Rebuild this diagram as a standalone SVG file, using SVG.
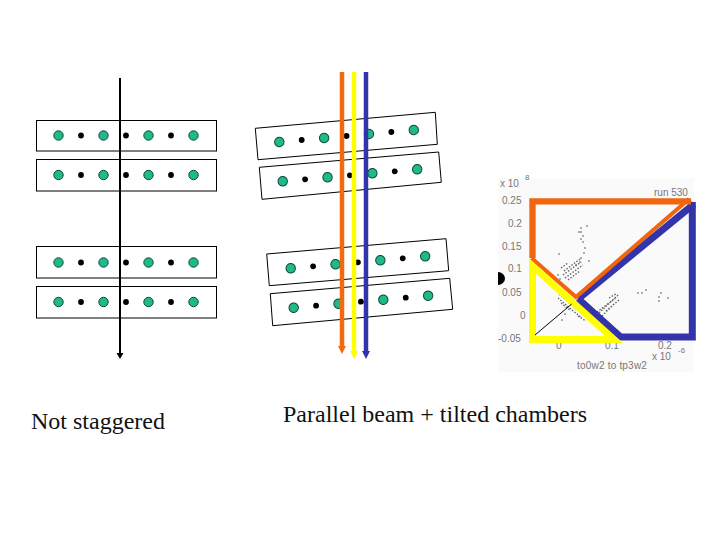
<svg xmlns="http://www.w3.org/2000/svg" width="720" height="540" viewBox="0 0 720 540">
<style>
.ch{fill:#fff;stroke:#000;stroke-width:1}
.g{fill:#1fb98a;stroke:#0b4a3a;stroke-width:1}
.b{fill:#000}
.cap{font-family:"Liberation Serif","Times New Roman",serif;font-size:24px;fill:#111}
.ax{font-family:"Liberation Sans",Arial,sans-serif;font-size:10px;fill:#777}
.sc{stroke:#666;stroke-width:1.4;fill:none;stroke-dasharray:1.5 1.6}
.sp{stroke:#666;stroke-width:1.4;stroke-linecap:square;fill:none}
</style>
<defs>
<g id="row"><circle class="g" cx="0" cy="0" r="4.7"/><circle class="b" cx="22.5" cy="0" r="2.9"/><circle class="g" cx="45" cy="0" r="4.7"/><circle class="b" cx="67.5" cy="0" r="2.9"/><circle class="g" cx="90" cy="0" r="4.7"/><circle class="b" cx="112.5" cy="0" r="2.9"/><circle class="g" cx="135" cy="0" r="4.7"/></g>
<marker id="ab" markerUnits="userSpaceOnUse" markerWidth="8" markerHeight="8" refX="1" refY="3.5" orient="auto"><path d="M0,0L6,3.5L0,7z" fill="#000"/></marker>
<marker id="ao" markerUnits="userSpaceOnUse" markerWidth="9" markerHeight="9" refX="1" refY="4" orient="auto"><path d="M0,0L8,4L0,8z" fill="#f26a10"/></marker>
<marker id="ay" markerUnits="userSpaceOnUse" markerWidth="9" markerHeight="9" refX="1" refY="4" orient="auto"><path d="M0,0L8,4L0,8z" fill="#ffff00"/></marker>
<marker id="al" markerUnits="userSpaceOnUse" markerWidth="9" markerHeight="9" refX="1" refY="4" orient="auto"><path d="M0,0L8,4L0,8z" fill="#3333aa"/></marker>
</defs>
<g id="chamber-straight-1"><rect class="ch" x="36.5" y="120.5" width="180" height="30.5"/><use href="#row" x="58.5" y="135.5"/></g>
<g id="chamber-straight-2"><rect class="ch" x="36.5" y="159.5" width="180" height="31.5"/><use href="#row" x="58.5" y="175"/></g>
<g id="chamber-straight-3"><rect class="ch" x="36.5" y="246.5" width="180" height="31.5"/><use href="#row" x="58.5" y="262.5"/></g>
<g id="chamber-straight-4"><rect class="ch" x="36.5" y="286.5" width="180" height="31.5"/><use href="#row" x="58.5" y="302"/></g>
<g id="chamber-tilted-1"><path class="ch" d="M255.3,128.3L435.3,112.3L437.3,144.3L258,159.7Z"/><use href="#row" transform="translate(279.3,142) rotate(-5.1)"/></g>
<g id="chamber-tilted-2"><path class="ch" d="M259.3,167.3L438.7,152L441.3,182.3L262,199.3Z"/><use href="#row" transform="translate(282.7,181.3) rotate(-5.1)"/></g>
<g id="chamber-tilted-3"><path class="ch" d="M266.7,254L446,238.7L448.7,270.7L269.3,285.7Z"/><use href="#row" transform="translate(290.7,268.3) rotate(-5.1)"/></g>
<g id="chamber-tilted-4"><path class="ch" d="M270.3,293.7L449.7,278.3L452.7,309.3L272.7,325.7Z"/><use href="#row" transform="translate(293.7,307.7) rotate(-5.1)"/></g>
<g id="connectors" fill="none">
<path d="M120,78V354" stroke="#000" stroke-width="2" marker-end="url(#ab)"/>
<path d="M342,72V347" stroke="#f26a10" stroke-width="4.5" marker-end="url(#ao)"/>
<path d="M354,72V352" stroke="#ffff00" stroke-width="4.5" marker-end="url(#ay)"/>
<path d="M366,72V352" stroke="#3333aa" stroke-width="4.5" marker-end="url(#al)"/>
</g>
<g id="plot">
<rect x="498" y="178" width="196" height="194" fill="#fafafa"/>
<g class="ax">
<text x="500" y="187">x 10</text><text x="525" y="180" font-size="8">8</text>
<text x="502" y="204">0.25</text><text x="508" y="227">0.2</text><text x="502" y="250">0.15</text><text x="508" y="272">0.1</text><text x="502" y="296">0.05</text><text x="520" y="319">0</text><text x="498" y="342">-0.05</text>
<text x="556" y="349">0</text><text x="605" y="349">0.1</text><text x="658" y="349">0.2</text><text x="652" y="360">x 10</text><text x="678" y="353" font-size="8">-6</text>
<text x="577" y="369" letter-spacing=".2">to0w2 to tp3w2</text><text x="654" y="196">run 530</text>
</g>
<path d="M498,272A7,6.5 0 0 1 498,285Z" fill="#000"/>
<path class="sp" d="M587,226h.01M581,228h.01M579,232h.01M581,232h.01M583,236h.01M581,239h.01M583,242h.01M585,248h.01M584,253h.01M581,258h.01M559,254h.01M589,261h.01M580,262h.01M576,265h.01M558,275h.01M560,279h.01M638,293h.01M642,293h.01M646,290h.01M661,293h.01M659,297h.01M659,301h.01M668,298h.01M565,314h.01M562,320h.01"/>
<path class="sc" d="M564,271L580,259M563,275L581,262M565,278L583,265M568,280L580,271M561,268L568,263M559,294L574,307M558,298L571,309M561,303L570,310M572,310L582,318M575,308L590,318M578,316L586,321M599,313L619,294M597,312L617,297M602,316L615,303M606,311L620,299M590,312L598,317M585,314L594,320M609,298L616,294"/>
<path d="M578.3,298.7L694,204" fill="none" stroke="#3333aa" stroke-width="7"/>
<path d="M692.3,202V337H620.7L578,298.7" fill="none" stroke="#3333aa" stroke-width="7"/>
<path d="M532.5,258V201.3H691" fill="none" stroke="#f0650e" stroke-width="6.3"/>
<path d="M531.5,258L576,297L689,199" fill="none" stroke="#f0650e" stroke-width="4"/>
<path d="M532.5,266V339.5H614L532.5,266Z" fill="none" stroke="#ffff00" stroke-width="7"/>
<path d="M535,335L571.7,304" stroke="#000" stroke-width="1" fill="none"/>
</g>
<text id="label-left" class="cap" x="31" y="429">Not staggered</text>
<text id="label-right" class="cap" x="283" y="422">Parallel beam + tilted chambers</text>
</svg>
